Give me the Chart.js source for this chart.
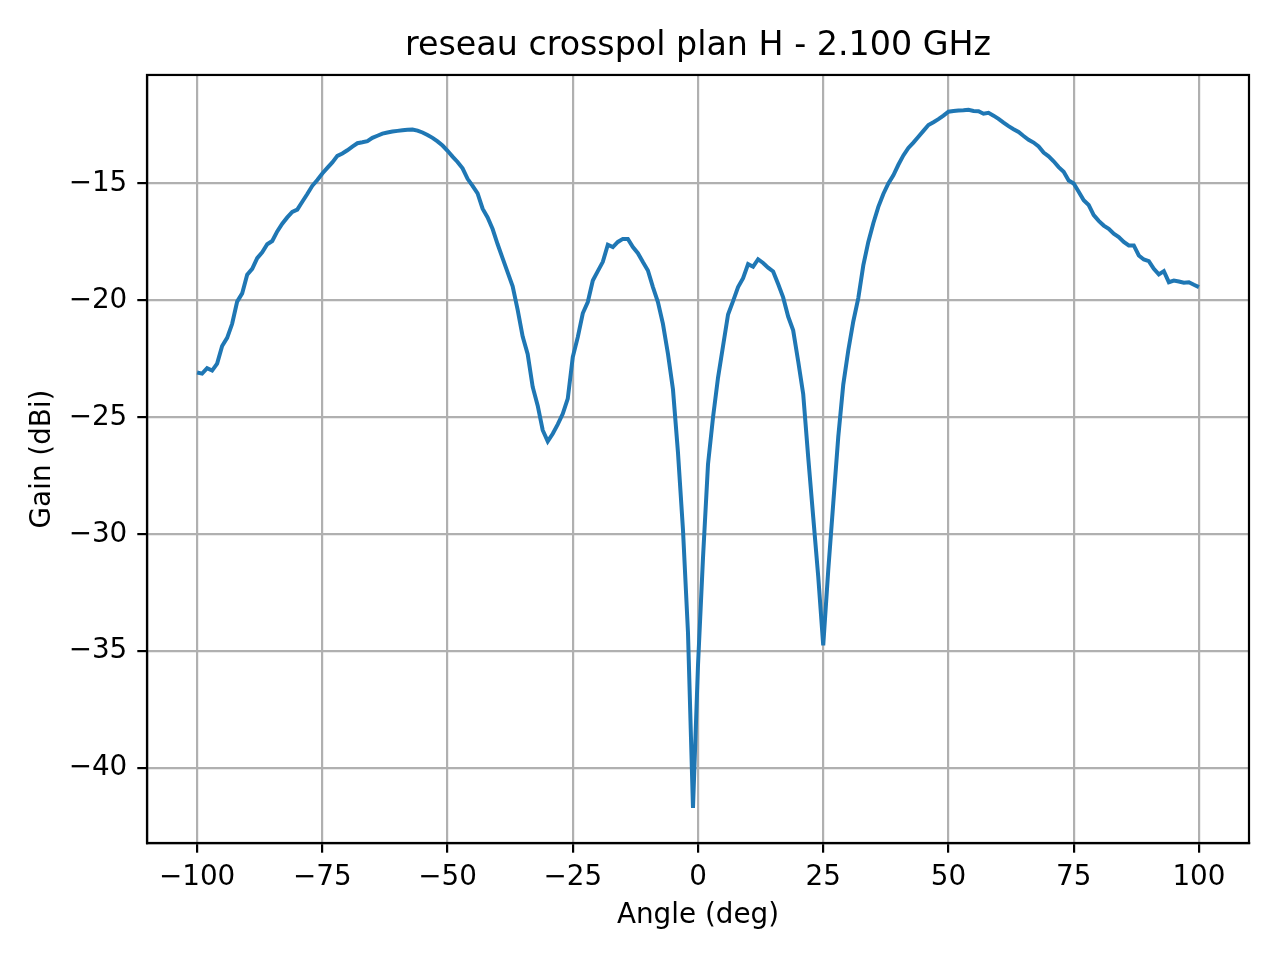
<!DOCTYPE html>
<html>
<head>
<meta charset="utf-8">
<script src="https://cdn.jsdelivr.net/npm/chart.js@4"></script>
<style>
  html, body { margin: 0; padding: 0; background: #ffffff; }
  #wrap { width: 1280px; height: 960px; }
</style>
</head>
<body>
<div id="wrap"><canvas id="c" width="1280" height="960"></canvas></div>
<script>
const chartTitle = 'reseau crosspol plan H - 2.100 GHz';
const xLabel = 'Angle (deg)';
const yLabel = 'Gain (dBi)';

const angles = [
  -100,-99,-98,-97,-96,-95,-94,-93,-92,-91,
  -90,-89,-88,-87,-86,-85,-84,-83,-82,-81,
  -80,-79,-78,-77,-76,-75,-74,-73,-72,-71,
  -70,-69,-68,-67,-66,-65,-64,-63,-62,-61,
  -60,-59,-58,-57,-56,-55,-54,-53,-52,-51,
  -50,-49,-48,-47,-46,-45,-44,-43,-42,-41,
  -40,-39,-38,-37,-36,-35,-34,-33,-32,-31,
  -30,-29,-28,-27,-26,-25,-24,-23,-22,-21,
  -20,-19,-18,-17,-16,-15,-14,-13,-12,-11,
  -10,-9,-8,-7,-6,-5,-4,-3,-2,-1,
  0,1,2,3,4,5,6,7,8,9,
  10,11,12,13,14,15,16,17,18,19,
  20,21,22,23,24,25,26,27,28,29,
  30,31,32,33,34,35,36,37,38,39,
  40,41,42,43,44,45,46,47,48,49,
  50,51,52,53,54,55,56,57,58,59,
  60,61,62,63,64,65,66,67,68,69,
  70,71,72,73,74,75,76,77,78,79,
  80,81,82,83,84,85,86,87,88,89,
  90,91,92,93,94,95,96,97,98,99,
  100
];

const gains = [
  -23.08,-23.13,-22.9,-23.0,-22.7,-21.95,-21.6,-21.0,-20.05,-19.7,
  -18.9,-18.65,-18.19,-17.94,-17.6,-17.46,-17.05,-16.72,-16.45,-16.22,
  -16.12,-15.78,-15.45,-15.1,-14.85,-14.57,-14.33,-14.1,-13.82,-13.72,
  -13.58,-13.42,-13.28,-13.24,-13.19,-13.05,-12.96,-12.87,-12.82,-12.78,
  -12.75,-12.72,-12.7,-12.69,-12.74,-12.82,-12.93,-13.05,-13.2,-13.38,
  -13.6,-13.85,-14.08,-14.35,-14.8,-15.1,-15.42,-16.08,-16.45,-16.95,
  -17.6,-18.2,-18.8,-19.4,-20.4,-21.55,-22.3,-23.7,-24.5,-25.55,
  -26.03,-25.7,-25.3,-24.85,-24.2,-22.42,-21.57,-20.55,-20.07,-19.15,
  -18.75,-18.35,-17.62,-17.72,-17.5,-17.37,-17.37,-17.72,-17.98,-18.36,
  -18.72,-19.43,-20.07,-21.0,-22.28,-23.8,-26.5,-29.8,-34.2,-41.7,
  -35.6,-31.0,-27.0,-25.0,-23.3,-21.95,-20.6,-20.03,-19.43,-19.05,
  -18.45,-18.56,-18.24,-18.4,-18.6,-18.76,-19.3,-19.87,-20.69,-21.28,
  -22.6,-24.0,-26.7,-29.26,-31.8,-34.75,-31.54,-28.68,-25.84,-23.6,
  -22.14,-20.9,-19.9,-18.5,-17.5,-16.7,-16.0,-15.45,-15.0,-14.65,
  -14.2,-13.8,-13.48,-13.25,-13.0,-12.75,-12.5,-12.38,-12.25,-12.1,
  -11.93,-11.9,-11.88,-11.87,-11.85,-11.9,-11.91,-12.02,-11.98,-12.1,
  -12.24,-12.4,-12.55,-12.68,-12.8,-12.97,-13.13,-13.25,-13.42,-13.68,
  -13.84,-14.05,-14.3,-14.5,-14.87,-15.0,-15.35,-15.72,-15.92,-16.35,
  -16.6,-16.8,-16.94,-17.15,-17.29,-17.5,-17.65,-17.65,-18.08,-18.25,
  -18.32,-18.65,-18.89,-18.75,-19.22,-19.15,-19.19,-19.24,-19.22,-19.33,
  -19.43
];

const xTicks = [-100, -75, -50, -25, 0, 25, 50, 75, 100];
const yTicks = [-40, -35, -30, -25, -20, -15];

const FONT = "'DejaVu Sans', 'Liberation Sans', sans-serif";
const fmt = v => (v < 0 ? '\u2212' + Math.abs(v) : String(v));

const points = angles.map((a, i) => ({ x: a, y: gains[i] }));

const frame = {
  id: 'frame',
  afterDatasetsDraw(chart) {
    const { ctx, chartArea: a } = chart;
    ctx.save();
    ctx.strokeStyle = '#000000';
    ctx.lineWidth = 2.2;
    ctx.strokeRect(a.left, a.top, a.right - a.left, a.bottom - a.top);
    ctx.restore();
  }
};

new Chart(document.getElementById('c'), {
  type: 'line',
  data: {
    datasets: [{
      data: points,
      borderColor: '#1f77b4',
      borderWidth: 4,
      pointRadius: 0,
      tension: 0,
      fill: false
    }]
  },
  options: {
    responsive: false,
    animation: false,
    devicePixelRatio: 1,
    layout: { padding: { left: 0, right: 31, top: 0, bottom: 0 } },
    plugins: {
      legend: { display: false },
      tooltip: { enabled: false },
      title: {
        display: true,
        text: chartTitle,
        fullSize: false,
        color: '#000000',
        font: { family: FONT, size: 33.3, weight: 'normal', lineHeight: 1.2 },
        padding: { top: 26.8, bottom: 8.2 }
      }
    },
    scales: {
      x: {
        type: 'linear',
        min: -110,
        max: 110,
        afterBuildTicks: s => { s.ticks = xTicks.map(v => ({ value: v })); },
        afterFit: s => { s.height = 117; },
        grid: { color: '#b0b0b0', lineWidth: 2.2, tickLength: 9.7, tickColor: '#000000', tickWidth: 2.2, drawOnChartArea: true },
        border: { display: true, color: '#000000', width: 2.2 },
        ticks: { color: '#000000', font: { family: FONT, size: 27.8 }, padding: 8, maxRotation: 0, autoSkip: false, callback: v => fmt(v) },
        title: { display: true, text: xLabel, color: '#000000', font: { family: FONT, size: 27.8, lineHeight: 1.2 }, padding: { top: 0, bottom: 28 } }
      },
      y: {
        type: 'linear',
        min: -43.2,
        max: -10.36,
        afterBuildTicks: s => { s.ticks = yTicks.map(v => ({ value: v })); },
        afterFit: s => { s.width = 147; },
        grid: { color: '#b0b0b0', lineWidth: 2.2, tickLength: 9.7, tickColor: '#000000', tickWidth: 2.2 },
        border: { display: true, color: '#000000', width: 2.2 },
        ticks: { color: '#000000', font: { family: FONT, size: 27.8 }, padding: 10, autoSkip: false, callback: v => fmt(v) },
        title: { display: true, text: yLabel, color: '#000000', font: { family: FONT, size: 27.8, lineHeight: 1.2 }, padding: { top: 26, bottom: 0 } }
      }
    }
  },
  plugins: [frame]
});
</script>
</body>
</html>
